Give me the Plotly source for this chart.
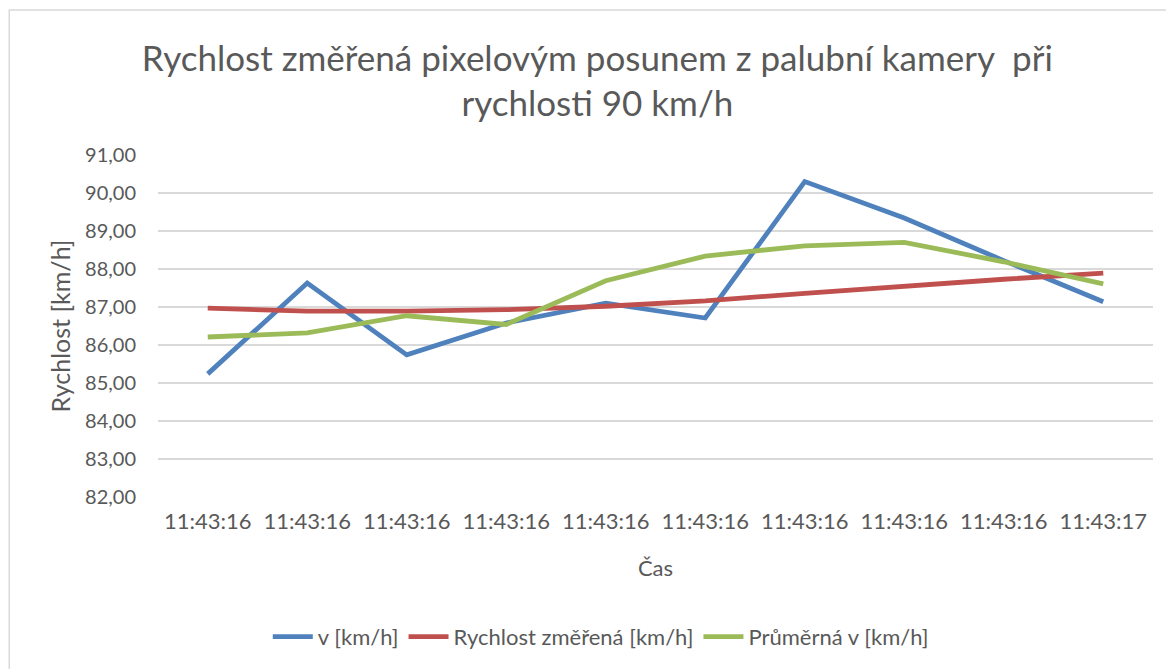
"""Speed measured by pixel shift from an onboard camera at 90 km/h"""

import plotly.graph_objects as go

TIME_LABELS = [
    "11:43:16", "11:43:16", "11:43:16", "11:43:16", "11:43:16",
    "11:43:16", "11:43:16", "11:43:16", "11:43:16", "11:43:17",
]
V_KMH = [85.24, 87.63, 85.74, 86.58, 87.10, 86.71, 90.30, 89.34, 88.22, 87.14]
MEASURED_KMH = [86.97, 86.89, 86.89, 86.93, 87.02, 87.16, 87.36, 87.55, 87.73, 87.89]
AVERAGE_KMH = [86.21, 86.32, 86.77, 86.54, 87.69, 88.34, 88.61, 88.70, 88.19, 87.61]

FONT = "Lato"
GREY = "#595959"

idx = list(range(len(TIME_LABELS)))

fig = go.Figure()
fig.add_trace(go.Scatter(x=idx, y=V_KMH, name="v [km/h]", mode="lines",
                         line=dict(color="#4f81bd", width=4.8)))
fig.add_trace(go.Scatter(x=idx, y=MEASURED_KMH, name="Rychlost změřená [km/h]",
                         mode="lines", line=dict(color="#c0504d", width=4.8)))
fig.add_trace(go.Scatter(x=idx, y=AVERAGE_KMH, name="Průměrná v [km/h]",
                         mode="lines", line=dict(color="#9bbb59", width=4.8)))

# the page body has an 8px margin, so the figure is offset by (8, 8)
fig.update_layout(
    width=1174,
    height=669,
    paper_bgcolor="white",
    plot_bgcolor="white",
    margin=dict(l=150, r=29, t=147, b=180),
    font=dict(family=FONT, color=GREY, size=20),
    separators=",.",
    title=dict(
        text="Rychlost změřená pixelovým posunem z palubní kamery  při<br>rychlosti 90 km/h",
        x=0.502, xref="container", xanchor="center",
        y=0.906, yref="container", yanchor="middle",
        font=dict(family=FONT, size=35, color=GREY),
    ),
    legend=dict(
        orientation="h", x=0.445, xanchor="center", y=-0.409, yanchor="middle",
        font=dict(size=22, color=GREY), itemwidth=40,
    ),
    shapes=[dict(type="rect", xref="paper", yref="paper",
                 x0=-0.1495, x1=1.04, y0=-0.7, y1=1.424,
                 line=dict(color="#d9d9d9", width=1.5))],
)

fig.update_xaxes(
    tickvals=idx, ticktext=TIME_LABELS, range=[-0.5, len(idx) - 0.5],
    showgrid=False, zeroline=False, showline=False, ticks="",
    automargin=False, ticklabelstandoff=9,
    title=dict(text="Čas", font=dict(size=22, color=GREY), standoff=27),
    tickfont=dict(size=22, color=GREY),
)
fig.update_yaxes(
    range=[82, 91], dtick=1, tickformat=".2f",
    showgrid=True, gridcolor="#d9d9d9", gridwidth=1.5,
    zeroline=False, showline=False, ticks="",
    automargin=False, ticklabelstandoff=21,
    title=dict(text="Rychlost [km/h]", font=dict(size=25, color=GREY), standoff=7),
    tickfont=dict(size=20, color=GREY),
)

fig.write_html("out.html")
